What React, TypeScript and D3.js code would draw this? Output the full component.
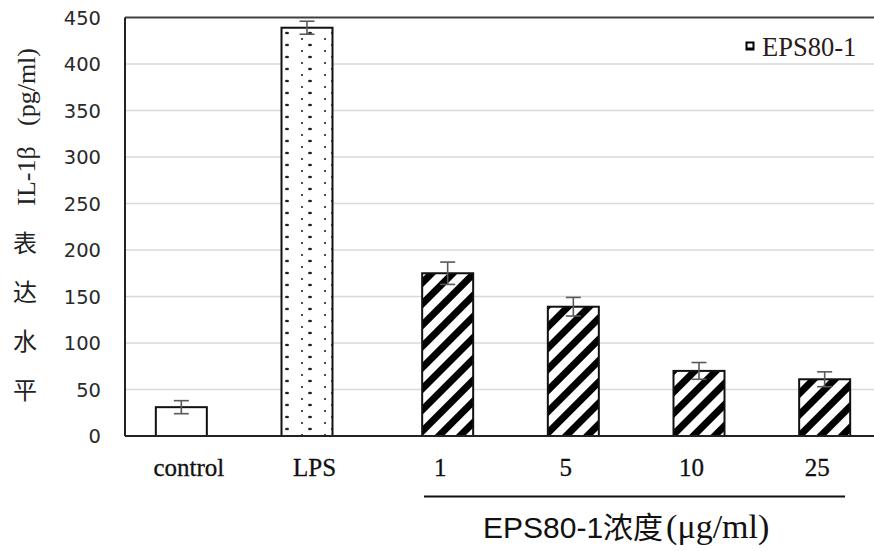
import React from "react";
import * as d3 from "d3";

const categories = ["control", "LPS", "1", "5", "10", "25"];
const groups = ["base", "base", "eps", "eps", "eps", "eps"];
const fills = ["white", "dots", "stripes", "stripes", "stripes", "stripes"];
const values = [31, 439, 175, 139, 70, 61];
const errors = [7, 7, 12, 10, 9, 8];
const yTicks = [0, 50, 100, 150, 200, 250, 300, 350, 400, 450];
const yTitleCjk = ["表", "达", "水", "平"];

const W = 874;
const H = 551;
const margin = { top: 17.5, left: 125, bottom: 436, right: 880 };

export default function App() {
  const x = d3
    .scaleBand<string>()
    .domain(categories)
    .range([margin.left + 1, margin.right]);
  const y = d3.scaleLinear().domain([0, 450]).range([margin.bottom, margin.top]);

  // two series side by side in each slot, as in the excel original
  const offset = d3.scaleOrdinal<string, number>().domain(["base", "eps"]).range([-7.5, 7.5]);
  const barW = 51;

  const fillOf = (f: string) =>
    f === "dots" ? "url(#dots)" : f === "stripes" ? "url(#stripes)" : "white";

  return (
    <svg width={W} height={H} style={{ position: "absolute", left: 0, top: 0 }}>
      <defs>
        <pattern id="stripes" patternUnits="userSpaceOnUse" width={15} height={15} patternTransform="rotate(45)">
          <rect width={15} height={15} fill="white" />
          <rect x={0} y={0} width={7} height={15} fill="black" />
        </pattern>
        <pattern id="dots" patternUnits="userSpaceOnUse" width={23} height={12}>
          <rect width={23} height={12} fill="white" />
          <circle cx={3} cy={3} r={1.1} fill="#222" />
          <ellipse cx={11} cy={9} rx={2} ry={1.2} fill="#222" />
        </pattern>
      </defs>

      {/* gridlines */}
      {yTicks.slice(1, -1).map((t) => (
        <line key={t} x1={margin.left} x2={W} y1={y(t)} y2={y(t)} stroke="#d9d9d9" strokeWidth={1.5} />
      ))}

      {/* frame */}
      <line x1={margin.left} x2={W} y1={y(450)} y2={y(450)} stroke="#404040" strokeWidth={2} />
      <line x1={margin.left} x2={margin.left} y1={y(450)} y2={y(0)} stroke="#222" strokeWidth={2} />

      {/* y tick labels */}
      {yTicks.map((t) => (
        <text
          key={t}
          x={101}
          y={y(t)}
          dy="0.36em"
          textAnchor="end"
          fontFamily="DejaVu Sans"
          fontSize={19.5}
          fill="#2a2a2a"
        >
          {t}
        </text>
      ))}

      {/* bars */}
      {categories.map((c, i) => {
        const cx = (x(c) as number) + x.bandwidth() / 2 + offset(groups[i]);
        return (
          <g key={c}>
            <rect
              x={cx - barW / 2}
              y={y(values[i])}
              width={barW}
              height={y(0) - y(values[i])}
              fill={fillOf(fills[i])}
              stroke="#111"
              strokeWidth={2}
            />
            <g stroke="#595959" strokeWidth={1.6}>
              <line x1={cx} x2={cx} y1={y(values[i] + errors[i])} y2={y(values[i] - errors[i])} />
              <line x1={cx - 7.5} x2={cx + 7.5} y1={y(values[i] + errors[i])} y2={y(values[i] + errors[i])} />
              <line x1={cx - 7.5} x2={cx + 7.5} y1={y(values[i] - errors[i])} y2={y(values[i] - errors[i])} />
            </g>
          </g>
        );
      })}

      <line x1={margin.left} x2={W} y1={y(0)} y2={y(0)} stroke="#222" strokeWidth={2} />

      {/* category labels */}
      {categories.map((c) => (
        <text
          key={c}
          x={(x(c) as number) + x.bandwidth() / 2}
          y={476}
          textAnchor="middle"
          fontFamily="Liberation Serif"
          fontSize={25}
          fill="#111"
          stroke="#111"
          strokeWidth={0.3}
        >
          {c}
        </text>
      ))}

      {/* group bracket and title */}
      <line x1={424} x2={845} y1={496.5} y2={496.5} stroke="#111" strokeWidth={2} />
      <text x={483} y={538} fontSize={30} fill="#111">
        <tspan fontFamily="Liberation Sans">EPS80-1</tspan>
        <tspan fontFamily="Noto Sans CJK SC">浓度</tspan>
        <tspan fontFamily="Liberation Serif" fontSize={34} dx={3}>(μg/ml)</tspan>
      </text>

      {/* legend */}
      <rect x={745.5} y={41.5} width={9} height={9} fill="black" />
      <rect x={747.5} y={43.5} width={5} height={4} fill="white" />
      <text x={762} y={56} fontFamily="Liberation Serif" fontSize={26.5} fill="#2a1a1a">
        EPS80-1
      </text>

      {/* y title */}
      <text
        transform="translate(35,87) rotate(-90)"
        textAnchor="middle"
        fontFamily="Liberation Serif"
        fontSize={26}
        fill="#222"
      >
        (pg/ml)
      </text>
      <text
        transform="translate(35,176) rotate(-90)"
        textAnchor="middle"
        fontFamily="Liberation Serif"
        fontSize={26}
        fill="#222"
      >
        IL-1β
      </text>
      {yTitleCjk.map((ch, i) => (
        <text
          key={ch}
          x={25}
          y={243 + i * 49}
          dy="0.36em"
          textAnchor="middle"
          fontFamily="Noto Sans CJK SC"
          fontSize={24}
          fill="#222"
        >
          {ch}
        </text>
      ))}
    </svg>
  );
}
